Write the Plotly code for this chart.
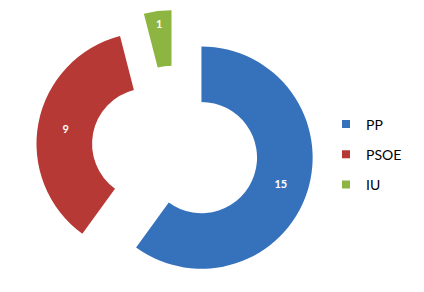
import plotly.graph_objects as go

parties = ["PP", "PSOE", "IU"]
seats = [15, 9, 1]
colors = ["#3672BC", "#B73935", "#8DB542"]

fig = go.Figure()
fig.add_trace(go.Pie(
    labels=parties,
    values=seats,
    hole=0.5,
    sort=False,
    direction="clockwise",
    rotation=0,
    pull=[0.25, 0.25, 0.25],
    marker=dict(colors=colors),
    textinfo="value",
    textposition="inside",
    insidetextorientation="horizontal",
    textfont=dict(family="Lato", size=11, color="white", weight="bold"),
    domain=dict(x=[36/424, 314/424], y=[4/292, 282/292]),
    hoverinfo="label+value",
    showlegend=False,
))

# legend entries (one per party)
for p, c in zip(parties, colors):
    fig.add_trace(go.Scatter(
        x=[None], y=[None], mode="markers", name=p, legendgroup=p,
        marker=dict(symbol="square", size=8, color=c),
    ))

fig.update_layout(
    width=424, height=292,
    margin=dict(l=0, r=0, t=0, b=0),
    paper_bgcolor="white",
    plot_bgcolor="white",
    xaxis=dict(visible=False),
    yaxis=dict(visible=False),
    showlegend=True,
    legend=dict(
        x=326/424, y=1 - 154.5/292, xanchor="left", yanchor="middle",
        font=dict(family="Lato", size=14, color="black"),
        itemwidth=30,
        tracegroupgap=9,
        bgcolor="rgba(0,0,0,0)",
    ),
)

fig.write_html("out.html")
